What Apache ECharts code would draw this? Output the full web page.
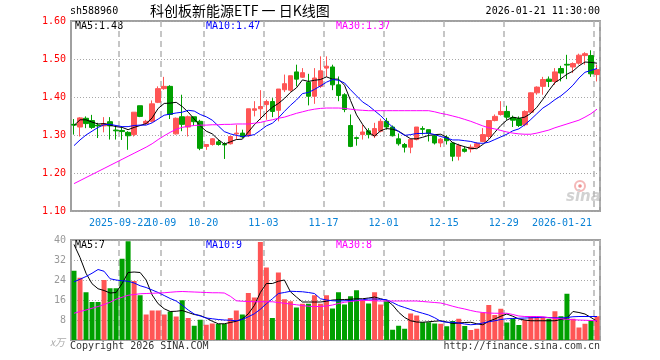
<!DOCTYPE html>
<html><head><meta charset="utf-8">
<script src="https://cdn.jsdelivr.net/npm/echarts@6/dist/echarts.min.js"></script>
<style>html,body{margin:0;padding:0;background:#fff}#c{width:660px;height:360px}</style>
</head><body><div id="c"></div>
<script>
const dates = ['2025-09-10','2025-09-11','2025-09-12','2025-09-15','2025-09-16','2025-09-17','2025-09-18','2025-09-19','2025-09-22','2025-09-23','2025-09-24','2025-09-25','2025-09-26','2025-09-29','2025-09-30','2025-10-09','2025-10-10','2025-10-13','2025-10-14','2025-10-15','2025-10-16','2025-10-17','2025-10-20','2025-10-21','2025-10-22','2025-10-23','2025-10-24','2025-10-27','2025-10-28','2025-10-29','2025-10-30','2025-10-31','2025-11-03','2025-11-04','2025-11-05','2025-11-06','2025-11-07','2025-11-10','2025-11-11','2025-11-12','2025-11-13','2025-11-14','2025-11-17','2025-11-18','2025-11-19','2025-11-20','2025-11-21','2025-11-24','2025-11-25','2025-11-26','2025-11-27','2025-11-28','2025-12-01','2025-12-02','2025-12-03','2025-12-04','2025-12-05','2025-12-08','2025-12-09','2025-12-10','2025-12-11','2025-12-12','2025-12-15','2025-12-16','2025-12-17','2025-12-18','2025-12-19','2025-12-22','2025-12-23','2025-12-24','2025-12-25','2025-12-26','2025-12-29','2025-12-30','2025-12-31','2026-01-05','2026-01-06','2026-01-07','2026-01-08','2026-01-09','2026-01-12','2026-01-13','2026-01-14','2026-01-15','2026-01-16','2026-01-19','2026-01-20','2026-01-21'];
const tickDates = ['2025-09-22','2025-10-09','2025-10-20','2025-11-03','2025-11-17','2025-12-01','2025-12-15','2025-12-29','2026-01-21'];
const tickLabels = ['2025-09-22','10-09','10-20','11-03','11-17','12-01','12-15','12-29','2026-01-21'];

const open = [1.328,1.321,1.344,1.338,1.326,1.324,1.335,1.313,1.312,1.307, 1.301,1.377,1.330,1.336,1.386,1.422,1.428,1.303,1.348,1.321, 1.348,1.336,1.270,1.275,1.282,1.276,1.277,1.303,1.305,1.298, 1.365,1.369,1.380,1.388,1.365,1.419,1.418,1.466,1.452,1.439, 1.402,1.428,1.476,1.479,1.432,1.406,1.325,1.293,1.301,1.311, 1.298,1.310,1.336,1.321,1.290,1.275,1.268,1.288,1.317,1.314, 1.298,1.279,1.294,1.279,1.244,1.263,1.263,1.268,1.283,1.296, 1.338,1.354,1.362,1.346,1.343,1.327,1.360,1.411,1.428,1.447, 1.441,1.475,1.486,1.479,1.489,1.509,1.509,1.459];
const close = [1.326,1.345,1.330,1.320,1.324,1.330,1.324,1.311,1.309,1.298, 1.360,1.349,1.336,1.382,1.422,1.428,1.354,1.344,1.328,1.348, 1.335,1.265,1.275,1.290,1.275,1.274,1.296,1.305,1.295,1.369, 1.369,1.375,1.388,1.362,1.421,1.435,1.456,1.447,1.464,1.402, 1.450,1.469,1.481,1.432,1.404,1.367,1.270,1.291,1.308,1.301, 1.317,1.336,1.321,1.298,1.277,1.268,1.288,1.321,1.315,1.304, 1.279,1.289,1.285,1.244,1.272,1.257,1.268,1.277,1.301,1.338, 1.349,1.362,1.347,1.339,1.325,1.362,1.411,1.426,1.446,1.441, 1.466,1.463,1.484,1.488,1.510,1.514,1.461,1.472];
const high = [1.342,1.347,1.349,1.353,1.332,1.347,1.347,1.323,1.320,1.310, 1.360,1.377,1.340,1.391,1.428,1.453,1.431,1.346,1.406,1.351, 1.348,1.340,1.275,1.292,1.288,1.281,1.296,1.327,1.314,1.369, 1.389,1.418,1.393,1.397,1.421,1.459,1.456,1.485,1.476,1.461, 1.476,1.507,1.507,1.485,1.454,1.410,1.354,1.296,1.327,1.318, 1.332,1.343,1.345,1.325,1.304,1.279,1.291,1.321,1.323,1.314, 1.301,1.292,1.299,1.281,1.277,1.270,1.275,1.281,1.318,1.338, 1.354,1.389,1.377,1.351,1.349,1.365,1.412,1.428,1.453,1.454, 1.476,1.482,1.511,1.491,1.514,1.518,1.523,1.485];
const low = [1.301,1.296,1.318,1.316,1.292,1.307,1.288,1.288,1.287,1.261, 1.296,1.347,1.327,1.333,1.384,1.419,1.342,1.301,1.310,1.296, 1.325,1.260,1.261,1.272,1.272,1.237,1.275,1.288,1.292,1.295, 1.349,1.340,1.340,1.347,1.336,1.413,1.414,1.428,1.450,1.378, 1.382,1.424,1.453,1.418,1.389,1.360,1.268,1.272,1.288,1.291, 1.292,1.307,1.314,1.296,1.272,1.254,1.252,1.286,1.301,1.283, 1.275,1.268,1.275,1.231,1.233,1.254,1.254,1.266,1.281,1.289, 1.336,1.351,1.340,1.321,1.321,1.323,1.358,1.406,1.406,1.426, 1.432,1.441,1.447,1.463,1.485,1.485,1.453,1.441];

const ma5 = [1.325,1.340,1.340,1.334,1.329,1.330,1.326,1.322,1.320,1.314, 1.320,1.325,1.330,1.345,1.370,1.383,1.384,1.386,1.375,1.360, 1.342,1.324,1.310,1.303,1.288,1.276,1.282,1.288,1.289,1.308, 1.327,1.343,1.359,1.373,1.383,1.396,1.412,1.424,1.445,1.441, 1.444,1.446,1.453,1.447,1.447,1.431,1.391,1.353,1.328,1.307, 1.297,1.311,1.317,1.315,1.310,1.300,1.290,1.290,1.294,1.299, 1.301,1.302,1.294,1.280,1.274,1.269,1.265,1.264,1.275,1.288, 1.307,1.325,1.339,1.347,1.344,1.347,1.357,1.373,1.394,1.417, 1.438,1.448,1.460,1.468,1.482,1.492,1.491,1.489];
const ma10 = [1.272,1.287,1.300,1.310,1.320,1.327,1.328,1.325,1.322,1.322, 1.325,1.326,1.326,1.332,1.342,1.352,1.355,1.358,1.360,1.365, 1.363,1.354,1.348,1.339,1.324,1.309,1.303,1.299,1.296,1.298, 1.301,1.312,1.324,1.331,1.345,1.362,1.378,1.392,1.409,1.412, 1.420,1.429,1.439,1.446,1.444,1.437,1.419,1.403,1.387,1.377, 1.364,1.351,1.335,1.321,1.309,1.299,1.301,1.304,1.304,1.305, 1.301,1.296,1.292,1.287,1.287,1.285,1.283,1.279,1.278,1.281, 1.288,1.295,1.302,1.311,1.316,1.327,1.341,1.356,1.371,1.381, 1.393,1.403,1.416,1.431,1.450,1.465,1.470,1.475];
const ma30 = [1.172,1.180,1.188,1.196,1.204,1.212,1.220,1.228,1.236,1.244, 1.252,1.260,1.268,1.277,1.288,1.298,1.307,1.315,1.320,1.323, 1.325,1.326,1.326,1.327,1.327,1.328,1.328,1.329,1.329,1.329, 1.331,1.333,1.337,1.340,1.344,1.347,1.352,1.357,1.361,1.365, 1.368,1.370,1.371,1.371,1.371,1.370,1.368,1.366,1.365,1.364, 1.364,1.364,1.364,1.364,1.364,1.364,1.364,1.364,1.364,1.364, 1.361,1.357,1.354,1.350,1.346,1.341,1.336,1.330,1.324,1.319, 1.316,1.312,1.308,1.305,1.303,1.302,1.302,1.305,1.309,1.313, 1.319,1.324,1.329,1.334,1.339,1.347,1.356,1.368];

const volume = [27.7,24.9,19.1,15.2,15.2,24.0,20.7,20.7,32.5,39.5, 23.6,17.9,10.2,11.8,11.8,10.2,11.4,9.4,15.9,8.8, 5.7,8.1,6.1,6.6,6.4,6.4,8.8,11.8,10.2,18.8, 17.0,39.2,29.0,8.8,27.0,16.3,15.5,13.0,14.5,14.5, 17.9,14.5,17.9,12.6,19.1,14.2,17.5,19.9,16.0,14.6, 19.1,14.2,15.5,4.1,5.7,4.5,10.6,9.8,7.1,7.1, 6.6,6.5,5.5,7.6,8.5,5.6,4.0,4.5,11.0,14.0, 10.0,12.5,7.0,8.5,6.0,8.0,9.5,9.0,9.0,8.5, 11.5,9.5,18.5,8.5,5.0,6.5,8.0,9.5];
const volMa5 = [38.2,33.0,26.7,22.5,20.5,19.8,18.8,19.0,22.6,27.0, 27.2,27.0,24.0,18.0,14.5,12.5,11.4,11.5,11.8,11.0, 10.2,9.8,8.8,7.5,6.5,6.5,7.0,7.5,8.4,10.5, 13.8,19.0,22.6,22.6,23.5,24.0,19.3,17.2,15.2,15.2, 15.2,15.2,15.5,16.0,16.1,16.2,16.3,16.5,16.5,16.8, 17.2,16.5,15.9,14.0,11.1,9.0,7.7,7.2,7.1,7.3, 7.5,7.7,7.2,6.6,6.8,7.0,7.1,6.5,6.1,7.5, 8.4,9.5,10.4,9.5,8.4,8.0,7.7,7.7,7.7,7.7, 7.7,8.2,8.8,11.4,11.0,10.4,9.0,7.5];
const volMa10 = [23.3,24.3,25.4,26.7,28.2,27.5,24.5,24.0,23.7,23.5, 22.8,21.7,21.0,20.0,19.0,17.8,16.6,15.6,13.9,12.0, 10.4,9.6,8.8,8.5,8.2,8.0,7.9,7.7,8.2,9.3, 10.5,12.3,14.5,16.5,18.6,19.0,19.5,19.4,19.3,19.0, 18.6,16.5,16.0,15.7,15.6,15.7,15.8,15.9,16.1,16.4, 16.4,16.3,16.1,15.0,13.8,13.0,12.2,11.4,10.7,10.0, 8.9,7.5,7.1,7.1,6.8,6.4,6.1,6.3,6.8,7.3, 7.7,8.2,8.5,8.6,8.7,8.8,8.9,9.0,9.1,9.0, 8.9,8.8,9.0,9.3,9.4,9.4,9.4,9.4];
const volMa30 = [10.7,11.4,12.0,12.7,13.4,14.2,15.1,16.3,17.1,17.9, 18.2,18.5,18.6,18.7,18.8,18.9,19.1,19.3,19.4,19.3, 19.2,19.1,19.0,18.9,18.9,18.8,17.5,15.7,15.5,15.4, 15.3,15.3,15.3,15.3,15.0,14.7,14.4,14.1,13.8,13.5, 13.4,13.4,13.6,14.0,14.6,15.1,15.4,15.7,15.9,15.8, 15.7,15.6,15.6,15.6,15.6,15.6,15.6,15.6,15.4,15.2, 15.0,14.8,14.2,13.5,12.9,12.4,11.8,11.3,11.0,10.8, 10.7,10.7,10.7,10.2,9.6,9.4,9.4,9.4,9.3,8.9, 8.7,8.5,8.3,8.1,8.0,7.9,7.8,7.7];

const UP = '#ff5555', DOWN = '#00a000';
const MONO = '"DejaVu Sans Mono", "Liberation Mono", monospace';
const tickIdx = tickDates.map(d => dates.indexOf(d));
const firstTick = tickIdx[0];

const kData = dates.map((d, i) => [open[i], close[i], low[i], high[i]]);
const volData = dates.map((d, i) => ({value: volume[i], itemStyle: {color: close[i] >= open[i] ? UP : DOWN}}));

const vSplit = {show: true, interval: (i) => tickIdx.includes(i), lineStyle: {color: '#b4b4b4', width: 1.5, type: [6, 4]}};
const hSplit = {show: true, lineStyle: {color: '#a8a8a8', width: 1, type: [1, 2]}};
const line = (name, data, color, xi, yi) => ({name, type: 'line', data, xAxisIndex: xi, yAxisIndex: yi, symbol: 'none', smooth: false, lineStyle: {color, width: 1}, z: 5, silent: true});
const labRich = {n: {padding: [0, 6, 0, 0], color: '#0a82d6', fontFamily: MONO, fontSize: 10},
                 r: {padding: [0, 70, 0, 0], color: '#0a82d6', fontFamily: MONO, fontSize: 10}};
const labFmt = (v) => { const k = tickDates.indexOf(v); if (k < 0) return ''; return (k === tickDates.length - 1 ? '{r|' : '{n|') + tickLabels[k] + '}'; };

const chart = echarts.init(document.getElementById('c'), null, {renderer: 'canvas'});
chart.setOption({
  animation: false,
  backgroundColor: '#ffffff',
  grid: [
    {left: 71, top: 21, width: 529, height: 190, show: true, borderColor: '#a0a0a0', borderWidth: 2, backgroundColor: 'transparent'},
    {left: 71, top: 240, width: 529, height: 100, show: true, borderColor: '#a0a0a0', borderWidth: 2, backgroundColor: 'transparent'}
  ],
  xAxis: [
    {type: 'category', gridIndex: 0, position: 'bottom', data: dates, boundaryGap: true,
     axisLine: {show: false}, axisTick: {show: false}, splitLine: vSplit,
     axisLabel: {interval: (i) => i !== firstTick && tickIdx.includes(i), margin: 7, hideOverlap: false, formatter: labFmt, rich: labRich}},
    {type: 'category', gridIndex: 1, position: 'bottom', data: dates, boundaryGap: true,
     axisLine: {show: false}, axisTick: {show: false}, axisLabel: {show: false}, splitLine: vSplit},
    {type: 'category', gridIndex: 0, position: 'bottom', offset: 0, data: dates, boundaryGap: true,
     axisLine: {show: false}, axisTick: {show: false}, splitLine: {show: false},
     axisLabel: {interval: (i) => i === firstTick, margin: 7, formatter: labFmt, rich: labRich}}
  ],
  yAxis: [
    {type: 'value', gridIndex: 0, min: 1.1, max: 1.6, interval: 0.1,
     axisLine: {show: false}, axisTick: {show: false}, splitLine: hSplit,
     axisLabel: {color: '#ff0000', fontFamily: MONO, fontSize: 10, margin: 5, formatter: (v) => v.toFixed(2)}},
    {type: 'value', gridIndex: 1, min: 0, max: 40, interval: 8,
     axisLine: {show: false}, axisTick: {show: false}, splitLine: hSplit,
     axisLabel: {color: '#999999', fontFamily: MONO, fontSize: 10, margin: 5, formatter: (v) => v === 0 ? '' : String(v)}}
  ],
  series: [
    {name: 'K', type: 'candlestick', xAxisIndex: 0, yAxisIndex: 0, data: kData, barWidth: 5,
     itemStyle: {color: UP, color0: DOWN, borderColor: UP, borderColor0: DOWN, borderWidth: 1}},
    line('MA5', ma5, '#000000', 0, 0),
    line('MA10', ma10, '#0000ff', 0, 0),
    line('MA30', ma30, '#ff00ff', 0, 0),
    {name: 'VOL', type: 'bar', xAxisIndex: 1, yAxisIndex: 1, data: volData, barWidth: 5},
    line('VMA5', volMa5, '#000000', 1, 1),
    line('VMA10', volMa10, '#0000ff', 1, 1),
    line('VMA30', volMa30, '#ff00ff', 1, 1)
  ],
  graphic: [
    {type: 'text', left: 70, top: 6, style: {text: 'sh588960', font: '10px ' + MONO, fill: '#000'}},
    {type: 'text', left: 150, top: 4, style: {text: '科创板新能源ETF 一 日K线图', font: '14px "Noto Sans CJK SC"', fill: '#000'}},
    {type: 'text', right: 60, top: 6, style: {text: '2026-01-21 11:30:00', font: '10px ' + MONO, fill: '#000'}},
    {type: 'text', left: 75, top: 21, style: {text: 'MA5:1.48', font: '10px ' + MONO, fill: '#000'}},
    {type: 'text', left: 206, top: 21, style: {text: 'MA10:1.47', font: '10px ' + MONO, fill: '#0000ff'}},
    {type: 'text', left: 336, top: 21, style: {text: 'MA30:1.37', font: '10px ' + MONO, fill: '#ff00ff'}},
    {type: 'text', left: 75, top: 240, style: {text: 'MA5:7', font: '10px ' + MONO, fill: '#000'}},
    {type: 'text', left: 206, top: 240, style: {text: 'MA10:9', font: '10px ' + MONO, fill: '#0000ff'}},
    {type: 'text', left: 336, top: 240, style: {text: 'MA30:8', font: '10px ' + MONO, fill: '#ff00ff'}},
    {type: 'text', left: 50, top: 337, style: {text: 'x万', font: 'italic 10px "Noto Sans CJK SC"', fill: '#aaaaaa'}},
    {type: 'text', left: 70, top: 341, style: {text: 'Copyright 2026 SINA.COM', font: '10px ' + MONO, fill: '#333'}},
    {type: 'text', right: 60, top: 341, style: {text: 'http://finance.sina.com.cn', font: '10px ' + MONO, fill: '#333'}},
    {type: 'circle', shape: {cx: 580, cy: 186, r: 5}, style: {fill: 'none', stroke: '#f4b8b8', lineWidth: 2}},
    {type: 'circle', shape: {cx: 580, cy: 186, r: 1.8}, style: {fill: '#f09090'}},
    {type: 'text', left: 566, top: 190, style: {text: 'sina', font: 'italic bold 15px "DejaVu Sans"', fill: '#d2d2d2'}}
  ]
});
</script></body></html>
